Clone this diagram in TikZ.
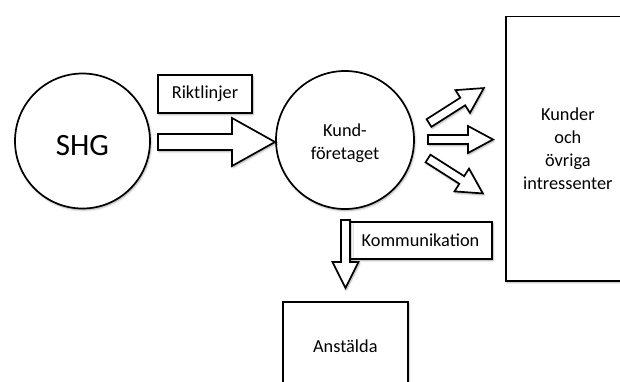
\documentclass[tikz,border=0pt]{standalone}
\usepackage{fontspec}
\setmainfont{Carlito}
\usetikzlibrary{shadows.blur}
\begin{document}
\begin{tikzpicture}[x=1pt,y=-1pt,
  softshadow/.style={blur shadow={shadow xshift=1pt, shadow yshift=-1.5pt,
      shadow blur radius=2pt, shadow blur steps=6, shadow opacity=35}},
  outline/.style={draw=black, line width=1.7pt, fill=white, softshadow},
  lbl/.style={font=\fontsize{18.3}{23}\selectfont, align=center},
  roundbox/.style={outline, circle, inner sep=0pt},
  textbox/.style={outline, rectangle, inner sep=0pt, lbl},
  arrowshape/.style={outline, line join=miter},
  pics/blockarrow/.style args={#1/#2/#3/#4}{code={
    % length / shaft half width / head half width / head length
    \draw[arrowshape] (0,-#2) -- ({#1-#4},-#2) -- ({#1-#4},-#3) -- (#1,0)
      -- ({#1-#4},#3) -- ({#1-#4},#2) -- (0,#2) -- cycle;}}
]
\useasboundingbox (0,0) rectangle (620,381);
\clip (0,0) rectangle (620,381);

% main actors
\node[roundbox, minimum size=135pt,
      label={[font=\fontsize{31}{37}\selectfont, yshift=-5pt]center:SHG}]
  (shg) at (82.5,141) {};
\node[roundbox, minimum size=138pt,
      label={[lbl, yshift=-3.5pt]center:Kund-\\företaget}]
  (kund) at (345,140) {};

% receivers
\node[outline, rectangle, inner sep=0pt, anchor=north west,
      minimum width=135pt, minimum height=264.5pt,
      label={[lbl, xshift=-5.5pt, yshift=0pt]center:Kunder\\och\\övriga\\intressenter}]
  (kunder) at (505,15.5) {};
\node[outline, rectangle, inner sep=0pt, anchor=north west,
      minimum width=125pt, minimum height=100pt,
      label={[lbl, yshift=5.5pt]center:Anstälda}]
  (anst) at (282,301) {};

% flow labels
\node[textbox, minimum width=94pt, minimum height=38pt] (rikt) at (205,94) {Riktlinjer};
\node[textbox, minimum width=143pt, minimum height=37pt] (komm) at (420.5,240.5) {Kommunikation};

% block arrows
\coordinate (a0) at (158,142);
\coordinate (a1) at (429,123);
\coordinate (a2) at (428,139.5);
\coordinate (a3) at (428,158.5);
\coordinate (a4) at (345.5,220);
\pic at (a0) {blockarrow=117/8/24/43};
\pic[rotate=32.5] at (a1) {blockarrow=65/4.5/13.5/25};
\pic at (a2) {blockarrow=65/4.5/13.5/25};
\pic[rotate=-32.5] at (a3) {blockarrow=65/4.5/13.5/25};
\pic[rotate=-90] at (a4) {blockarrow=68/4.5/13/26};
\end{tikzpicture}
\end{document}
